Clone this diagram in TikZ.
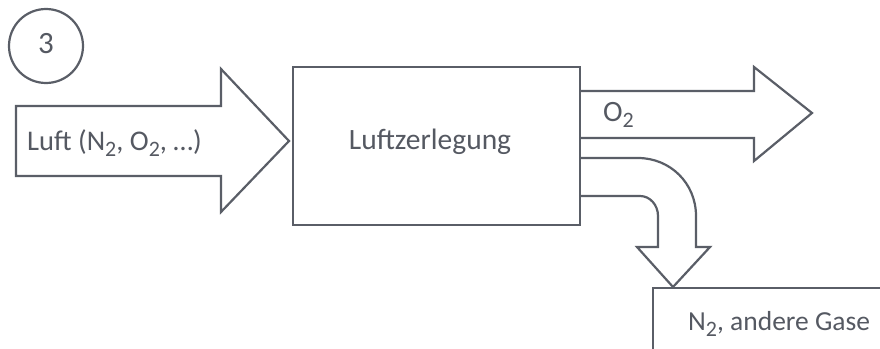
\documentclass[tikz,border=0pt]{standalone}
\usepackage{fontspec}
\setmainfont{Carlito}
\definecolor{ink}{HTML}{5A5E67}
\definecolor{txt}{HTML}{555962}
\newcommand\lowsub[1]{\raisebox{-6.5pt}{\fontsize{22}{22}\selectfont #1}}
\begin{document}
\begin{tikzpicture}[x=1pt,y=-1pt,
  shapeline/.style={draw=ink,line width=2.2pt,line join=miter,fill=white},
  lbl/.style={inner sep=0pt,text=txt,font=\fontsize{29.5}{32}\selectfont}]
\useasboundingbox (0,0) rectangle (880,348);
\clip (0,0) rectangle (880,348);
% number circle
\node[draw=ink,line width=2.2pt,circle,minimum size=74pt,inner sep=0pt] (num) at (46,46) {};
\node[lbl,anchor=base,font=\fontsize{31}{33}\selectfont] (numtxt) at (46,53) {3};
% main box
\node[shapeline,minimum width=287pt,minimum height=158pt,inner sep=0pt,anchor=north west] (box) at (292,66) {};
% input arrow
\draw[shapeline] (16,106) -- (221,106) -- (221,69) -- (289,141) -- (221,212) -- (221,176) -- (16,176) -- cycle;
\node[lbl,anchor=base west,font=\fontsize{28.5}{31}\selectfont] (luft) at (27,150) {Luft (N\lowsub{2}, O\lowsub{2}, …)};
\node[lbl,anchor=base] (boxtxt) at (430,149) {Luftzerlegung};
% O2 arrow
\coordinate (o2a) at (box.north east |- 0,91);
\coordinate (o2b) at (box.north east |- 0,138);
\draw[shapeline] (o2a) -- (754,91) -- (754,67) -- (812,113) -- (754,161) -- (754,138) -- (o2b);
\node[lbl,anchor=base west] (o2) at (603,121) {O\lowsub{2}};
% bottom box
\draw[shapeline] (653,360) -- (653,288) -- (890,288);
\node[lbl,anchor=base west,font=\fontsize{27.5}{30}\selectfont] (n2) at (688,330) {N\lowsub{2}, andere Gase};
% curved arrow
\coordinate (ca) at (box.north east |- 0,158);
\coordinate (cb) at (box.north east |- 0,196);
\draw[shapeline] (ca) -- (638,158) .. controls (670,158) and (696,183) .. (696,216)
  -- (696,247) -- (710,247) -- (673,287) -- (637,247) -- (658,247) -- (658,216)
  .. controls (658,205) and (650,196) .. (640,196) -- (cb);
\end{tikzpicture}
\end{document}
